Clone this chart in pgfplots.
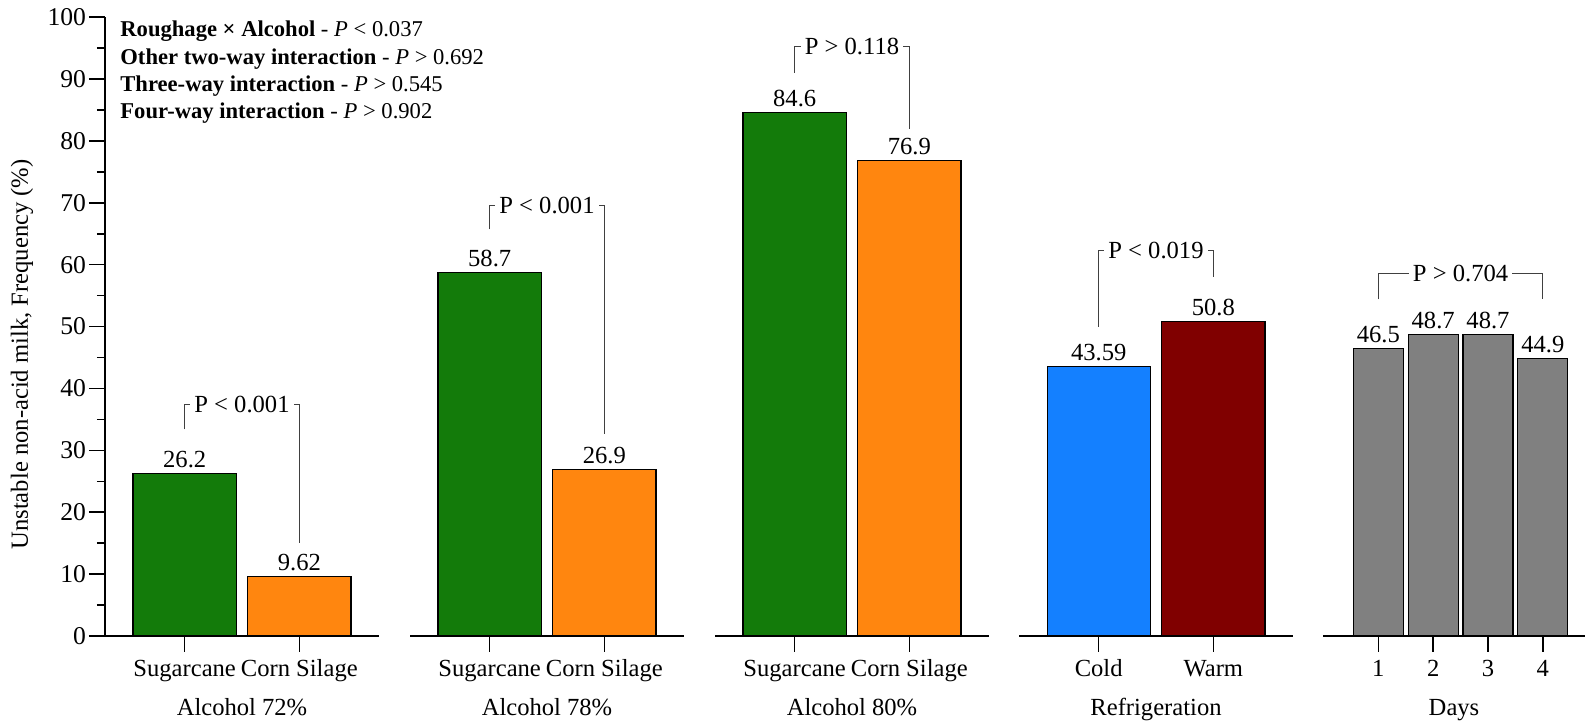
\documentclass[border=0pt]{standalone}
\usepackage{fontspec}
\setmainfont{Liberation Serif}
\usepackage{pgfplots}
\pgfplotsset{compat=1.18}
\definecolor{cgreen}{RGB}{19,123,10}
\definecolor{corange}{RGB}{255,134,15}
\definecolor{cblue}{RGB}{20,128,255}
\definecolor{cred}{RGB}{128,0,0}
\definecolor{cgray}{RGB}{128,128,128}
\newcommand{\fs}{\fontsize{12.3}{14}\selectfont}
\newcommand{\fy}{\fontsize{12.8}{14}\selectfont}
\tikzset{
  bracket/.style={draw=black!75, line width=0.5pt},
  pnode/.style={fill=white, inner sep=2pt, font=\fs, text=black},
}
\pgfplotsset{
  panel/.style={
    scale only axis, width=137pt, height=309.4pt, ymin=0, ymax=100,
    anchor=south west, clip=false,
    axis line style={-, line width=0.75pt},
    tick align=outside, major tick length=8pt, minor tick length=4pt,
    tick style={line width=0.75pt, black},
    xmin=-0.695, xmax=1.695, xtick={0,1},
    tick label style={font=\fs},
    /pgf/number format/assume math mode=true,
    xlabel style={font=\fs, at={(axis description cs:0.5,0)}, anchor=base, yshift=-40pt},
    xticklabel style={anchor=base, yshift=-12.5pt},
  },
  noy/.style={axis x line=bottom, axis y line=none, ytick=\empty},
  bar1/.style={ybar, bar width=0.9, bar shift=0pt, draw=black, line width=0.6pt,
    nodes near coords, point meta=explicit symbolic,
    nodes near coords style={font=\fs, text=black, inner sep=2.5pt, anchor=south}},
}
\begin{document}
\begin{tikzpicture}
\useasboundingbox (0,0) rectangle (792.5pt,360.5pt);
% Panel 1
\begin{axis}[axis x line=bottom, axis y line=left, panel, at={(52.5pt,42.5pt)},
  ytick={0,10,20,30,40,50,60,70,80,90,100}, minor y tick num=1,
  yticklabels={0,10,20,30,40,50,60,70,80,90,100},
  yticklabel style={font=\fy}, yticklabel shift=-2pt,
  xticklabels={Sugarcane,Corn Silage}, xlabel={Alcohol 72\%},
  ylabel={Unstable non-acid milk, Frequency (\%)},
  ylabel style={font=\fs, at={(axis description cs:-0.303,0.455)}, anchor=center}]
\addplot[bar1, fill=cgreen] coordinates {(0,26.2) [26.2]};
\addplot[bar1, fill=corange] coordinates {(1,9.62) [9.62]};
\draw[bracket] (axis cs:0,33.4) |- (axis cs:0.5,37.4) node[pnode]{P < 0.001} -| (axis cs:1,15.1);
\end{axis}
% Panel 2
\begin{axis}[noy, panel, at={(205pt,42.5pt)},
  xticklabels={Sugarcane,Corn Silage}, xlabel={Alcohol 78\%}]
\addplot[bar1, fill=cgreen] coordinates {(0,58.7) [58.7]};
\addplot[bar1, fill=corange] coordinates {(1,26.9) [26.9]};
\draw[bracket] (axis cs:0,65.7) |- (axis cs:0.5,69.5) node[pnode]{P < 0.001} -| (axis cs:1,32.6);
\end{axis}
% Panel 3
\begin{axis}[noy, panel, at={(357.5pt,42.5pt)},
  xticklabels={Sugarcane,Corn Silage}, xlabel={Alcohol 80\%}]
\addplot[bar1, fill=cgreen] coordinates {(0,84.6) [84.6]};
\addplot[bar1, fill=corange] coordinates {(1,76.9) [76.9]};
\draw[bracket] (axis cs:0,91.0) |- (axis cs:0.5,95.2) node[pnode]{P > 0.118} -| (axis cs:1,82.0);
\end{axis}
% Panel 4
\begin{axis}[noy, panel, at={(509.5pt,42.5pt)},
  xticklabels={Cold,Warm}, xlabel={Refrigeration}]
\addplot[bar1, fill=cblue] coordinates {(0,43.59) [43.59]};
\addplot[bar1, fill=cred] coordinates {(1,50.8) [50.8]};
\draw[bracket] (axis cs:0,50.0) |- (axis cs:0.5,62.3) node[pnode]{P < 0.019} -| (axis cs:1,58.0);
\end{axis}
% Panel 5
\begin{axis}[noy, panel, at={(661.5pt,42.5pt)}, width=131pt,
  xmin=-1.01, xmax=3.77, xtick={0,1,2,3},
  xticklabels={1,2,3,4}, xlabel={Days}]
\addplot[bar1, bar width=0.91, fill=cgray] coordinates {(0,46.5) [46.5] (1,48.7) [48.7] (2,48.7) [48.7] (3,44.9) [44.9]};
\draw[bracket] (axis cs:0,54.4) |- (axis cs:1.5,58.5) node[pnode]{P > 0.704} -| (axis cs:3,54.4);
\end{axis}
% Top-left annotations
\begin{scope}[every node/.style={anchor=base west, inner sep=0pt, font=\fontsize{11.3}{13}\selectfont}]
\node at (60pt,342pt) {\textbf{Roughage × Alcohol} - \textit{P} < 0.037};
\node at (60pt,328.4pt) {\textbf{Other two-way interaction} - \textit{P} > 0.692};
\node at (60pt,314.8pt) {\textbf{Three-way interaction} - \textit{P} > 0.545};
\node at (60pt,301.2pt) {\textbf{Four-way interaction} - \textit{P} > 0.902};
\end{scope}
\end{tikzpicture}
\end{document}
